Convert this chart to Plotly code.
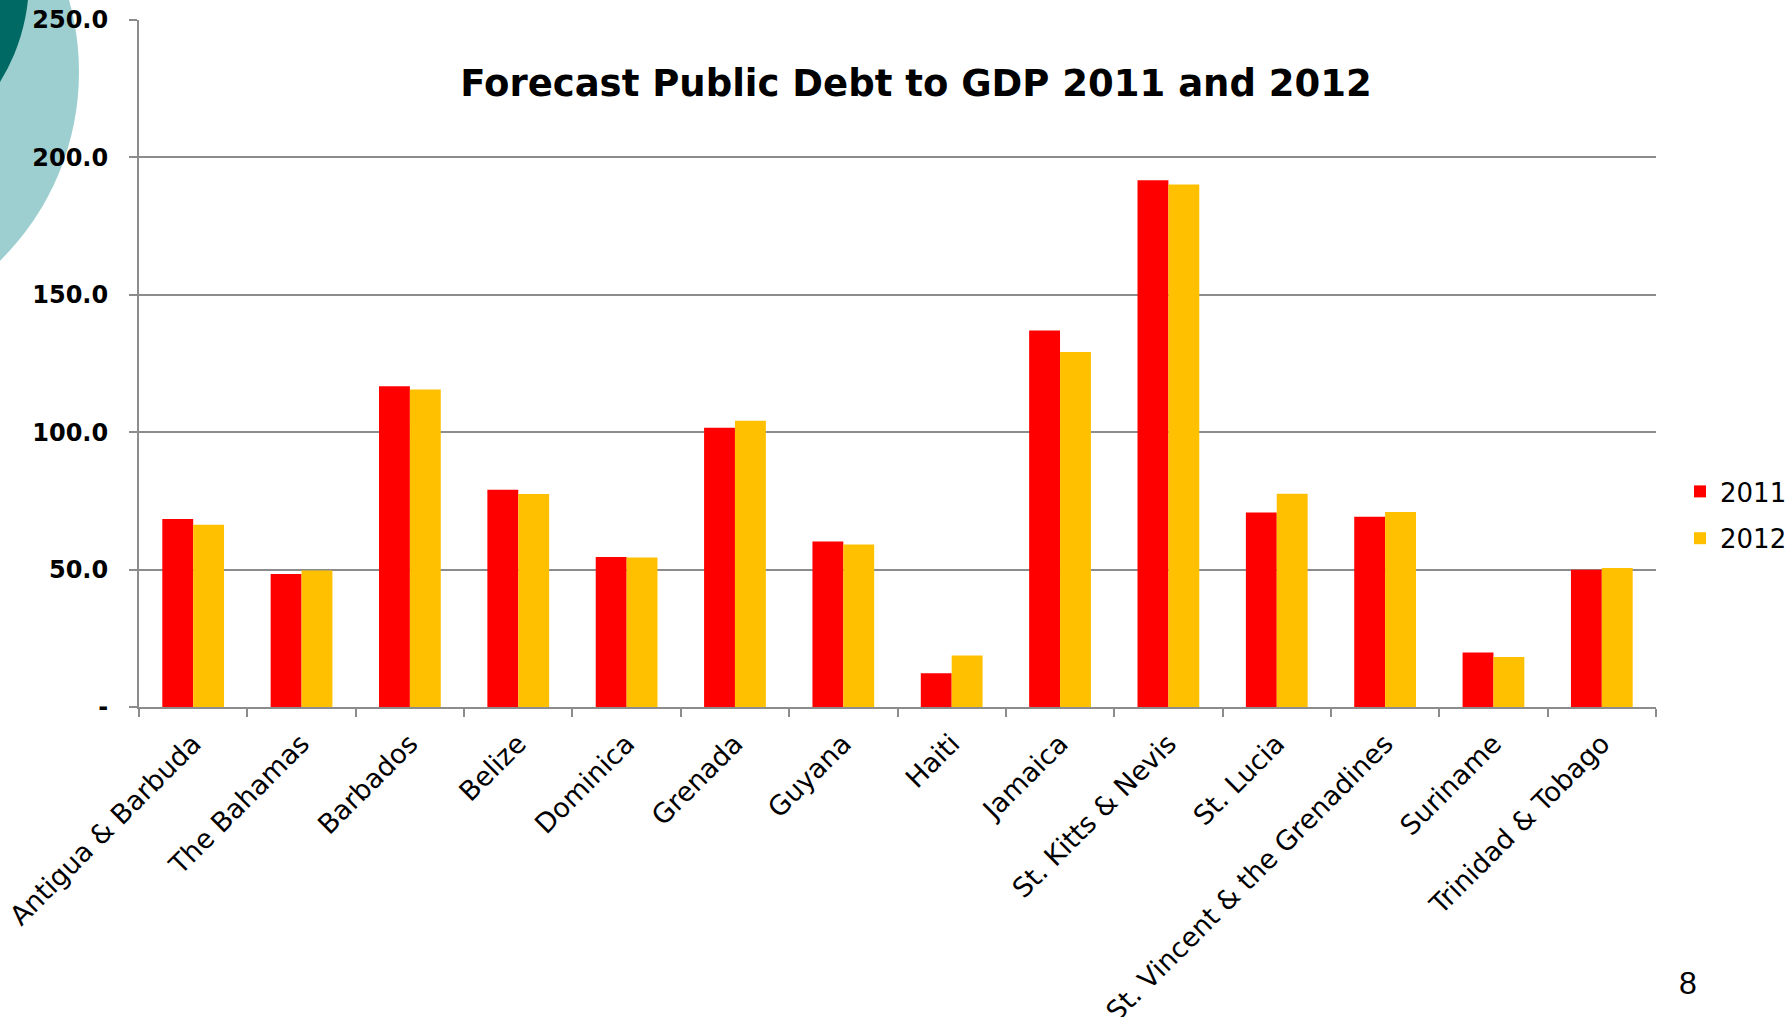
import plotly.graph_objects as go

countries = ["Antigua & Barbuda", "The Bahamas", "Barbados", "Belize", "Dominica",
             "Grenada", "Guyana", "Haiti", "Jamaica", "St. Kitts & Nevis", "St. Lucia",
             "St. Vincent & the Grenadines", "Suriname", "Trinidad & Tobago"]
debt_2011 = [68.4, 48.4, 116.7, 79.1, 54.6, 101.6, 60.2, 12.3, 137.0, 191.7, 70.8, 69.2, 19.8, 49.9]
debt_2012 = [66.3, 49.7, 115.5, 77.5, 54.4, 104.2, 59.1, 18.7, 129.2, 190.1, 77.6, 71.0, 18.2, 50.6]
series_names = ["2011", "2012"]
y_tickvals = [0, 50, 100, 150, 200, 250]
y_ticktext = ["-", "50.0", "100.0", "150.0", "200.0", "250.0"]
title_text = "Forecast Public Debt to GDP 2011 and 2012"
page_number = "8"

FONT = "DejaVu Sans"
GRID = "#8c8c8c"

fig = go.Figure()
fig.add_trace(go.Bar(x=countries, y=debt_2011, name=series_names[0],
                     marker=dict(color="#ff0000", line=dict(width=0)), legendgroup="a"))
fig.add_trace(go.Bar(x=countries, y=debt_2012, name=series_names[1],
                     marker=dict(color="#ffc000", line=dict(width=0)), legendgroup="b"))

# decorative circles (top-left), positioned in pixels relative to plot-area top-left
fig.add_shape(type="circle", xref="paper", yref="paper", xsizemode="pixel", ysizemode="pixel",
              xanchor=0, yanchor=1, x0=-590, x1=-60, y0=-317, y1=213,
              fillcolor="#9ecfd0", line=dict(width=0), layer="below")
fig.add_shape(type="circle", xref="paper", yref="paper", xsizemode="pixel", ysizemode="pixel",
              xanchor=0, yanchor=1, x0=-498, x1=-110, y0=-154, y1=234,
              fillcolor="#006964", line=dict(width=0), layer="below")

fig.update_layout(
    width=1792, height=1017,
    margin=dict(l=139, r=136, t=20, b=310, autoexpand=False),
    paper_bgcolor="white", plot_bgcolor="white",
    barmode="group", bargap=0.43, bargroupgap=0,
    font=dict(family=FONT, color="black"),
    title=dict(text="<b>" + title_text + "</b>", x=916 / 1792, xref="container", xanchor="center",
               y=1 - 83 / 1017, yref="container", yanchor="middle",
               font=dict(family=FONT, size=37, color="black")),
    legend=dict(x=1680 / 1792, xref="container", xanchor="left", y=1 - 468 / 1017, yref="container",
                yanchor="top", font=dict(family=FONT, size=26, color="black"),
                tracegroupgap=10, bgcolor="rgba(0,0,0,0)", itemwidth=30),
    showlegend=True,
)
fig.update_xaxes(showline=True, linecolor=GRID, linewidth=2, ticks="outside", ticklen=8,
                 tickwidth=2, tickcolor=GRID, tickson="boundaries", tickangle=-45,
                 tickfont=dict(family=FONT, size=27, color="black"), showgrid=False,
                 ticklabelstandoff=8, automargin=False)
fig.update_yaxes(range=[0, 250], tickvals=y_tickvals, ticktext=y_ticktext, showline=True,
                 linecolor=GRID, linewidth=2, ticks="outside", ticklen=8, tickwidth=2,
                 tickcolor=GRID, showgrid=True, gridcolor=GRID, gridwidth=2, zeroline=False,
                 tickfont=dict(family=FONT, size=24, color="black", weight="bold"),
                 ticklabelstandoff=16, automargin=False)

fig.add_annotation(text=page_number, xref="paper", yref="paper", x=0, y=0, showarrow=False,
                   xanchor="center", yanchor="middle", xshift=1688 - 139, yshift=-(983 - 707),
                   font=dict(family="Liberation Sans", size=32, color="black"))

fig.write_html("out.html")
